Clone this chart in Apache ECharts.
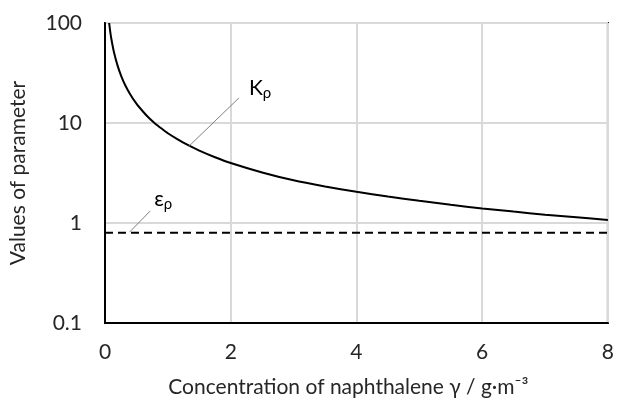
<!DOCTYPE html>
<html>
<head>
<meta charset="utf-8">
<script src="https://cdn.jsdelivr.net/npm/echarts@6/dist/echarts.min.js"></script>
<style>
  html, body { margin: 0; padding: 0; background: #fff; }
  #main { width: 617px; height: 403px; }
</style>
</head>
<body>
<div id="main"></div>
<script>
// K_rho curve
const concX = [0.066, 0.08, 0.1, 0.14, 0.2, 0.26, 0.32, 0.4, 0.5, 0.6, 0.7, 0.8, 0.9, 1.0, 1.15, 1.3, 1.5, 1.75,
  2, 2.5, 3, 3.5, 4, 4.5, 5, 5.5, 6, 6.5, 7, 7.5, 8];
const kRho = [100, 85, 70, 52, 37.5, 29.3, 24, 19.4, 15.6, 13.1, 11.2, 9.85, 8.8, 7.9, 6.9, 6.1, 5.3, 4.55,
  3.98, 3.2, 2.67, 2.32, 2.05, 1.84, 1.67, 1.52, 1.40, 1.30, 1.21, 1.14, 1.07];
// eps_rho constant line
const epsX = [0, 8];
const epsRho = [0.8, 0.8];
const xTicks = [0, 2, 4, 6, 8];
const yTicks = [0.1, 1, 10, 100];
// leader lines for the labels (data coords)
const kLeader = [[1.34, 5.9], [2.13, 17.8]];
const epsLeader = [[0.39, 0.81], [0.72, 1.32]];

const font = 'Lato';
const txt = '#262626';
const chart = echarts.init(document.getElementById('main'));

chart.setOption({
  animation: false,
  backgroundColor: '#fff',
  textStyle: { fontFamily: font },
  grid: { left: 105, right: 5, top: 23, bottom: 78, show: true, borderColor: '#000', borderWidth: 2 },
  xAxis: {
    type: 'value',
    min: xTicks[0],
    max: xTicks[xTicks.length - 1],
    interval: 2,
    name: 'Concentration of naphthalene γ / g·m⁻³',
    nameLocation: 'middle',
    nameGap: 54,
    nameTextStyle: { fontSize: 21, color: txt, fontFamily: font, padding: [0, 16, 0, 0] },
    axisLine: { lineStyle: { color: '#000', width: 2 } },
    axisTick: { show: false },
    axisLabel: { fontSize: 21, color: txt, margin: 19 },
    splitLine: { lineStyle: { color: '#d9d9d9', width: 2 } }
  },
  yAxis: {
    type: 'log',
    logBase: 10,
    min: yTicks[0],
    max: yTicks[yTicks.length - 1],
    name: 'Values of parameter',
    nameLocation: 'middle',
    nameGap: 76,
    nameTextStyle: { fontSize: 21, color: txt, fontFamily: font },
    axisLine: { show: true, lineStyle: { color: '#000', width: 2 } },
    axisTick: { show: false },
    axisLabel: { fontSize: 21, color: txt, margin: 23, formatter: v => String(v) },
    splitLine: { lineStyle: { color: '#d9d9d9', width: 2 } }
  },
  series: [
    {
      type: 'line',
      data: concX.map((x, i) => [x, kRho[i]]),
      smooth: 0.2,
      showSymbol: false,
      lineStyle: { color: '#000', width: 2 },
      z: 3
    },
    {
      type: 'line',
      data: epsX.map((x, i) => [x, epsRho[i]]),
      showSymbol: false,
      lineStyle: { color: '#000', width: 2, type: [8, 5] },
      z: 3
    },
    {
      type: 'line',
      data: kLeader,
      showSymbol: false,
      silent: true,
      lineStyle: { color: '#808080', width: 1 },
      endLabel: {
        show: true,
        offset: [2, -10],
        formatter: '{a|K}{b|ρ}',
        rich: {
          a: { fontSize: 21, color: '#000', fontFamily: font },
          b: { fontSize: 15, color: '#000', fontFamily: font, padding: [10, 0, 0, 0] }
        }
      }
    },
    {
      type: 'line',
      data: epsLeader,
      showSymbol: false,
      silent: true,
      lineStyle: { color: '#808080', width: 1 },
      endLabel: {
        show: true,
        offset: [-4, -12],
        formatter: '{a|ε}{b|ρ}',
        rich: {
          a: { fontSize: 21, color: '#000', fontFamily: font },
          b: { fontSize: 15, color: '#000', fontFamily: font, padding: [10, 0, 0, 0] }
        }
      }
    }
  ]
});
</script>
</body>
</html>
